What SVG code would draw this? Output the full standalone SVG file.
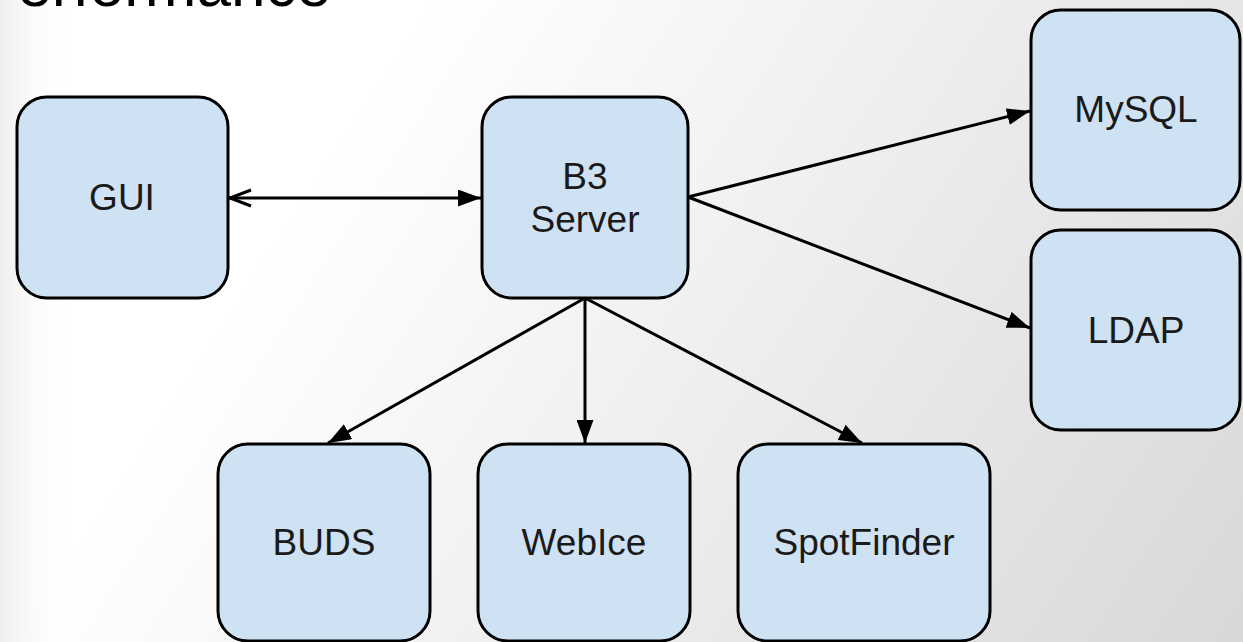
<svg xmlns="http://www.w3.org/2000/svg" width="1243" height="642" viewBox="0 0 1243 642">
  <style>
    .node rect { fill: #cfe2f3; stroke: #000; stroke-width: 3; }
    .node text { font-family: "Liberation Sans", Arial, sans-serif; font-size: 37px; fill: #1a1a1a; text-anchor: middle; }
    .conn line { stroke: #000; stroke-width: 3; fill: none; }
    .title { font-family: "Liberation Sans", Arial, sans-serif; font-size: 62px; fill: #000; }
  </style>
  <defs>
    <linearGradient id="bg" gradientUnits="userSpaceOnUse" x1="380" y1="80" x2="1243" y2="642">
      <stop offset="0" stop-color="#ffffff"/>
      <stop offset="1" stop-color="#d8d8d8"/>
    </linearGradient>
    <linearGradient id="edge" x1="0" y1="0" x2="1" y2="0">
      <stop offset="0" stop-color="#eeeeee" stop-opacity="1"/>
      <stop offset="1" stop-color="#ffffff" stop-opacity="0"/>
    </linearGradient>
    <marker id="tri" markerUnits="userSpaceOnUse" viewBox="0 0 23 17" markerWidth="23" markerHeight="17" refX="23" refY="8.5" orient="auto">
      <path d="M0,0 L23,8.5 L0,17 z" fill="#000"/>
    </marker>
    <marker id="open" markerUnits="userSpaceOnUse" viewBox="-2 -2 26 20" markerWidth="26" markerHeight="20" refX="0" refY="8" orient="auto" overflow="visible">
      <path d="M22,0 L1,8 L22,16" fill="none" stroke="#000" stroke-width="3"/>
    </marker>
  </defs>
  <rect x="0" y="0" width="1243" height="642" fill="url(#bg)"/>
  <rect x="0" y="0" width="70" height="642" fill="url(#edge)"/>
  <text class="title" x="-24" y="6">Performance</text>

  <g id="connectors" class="conn">
    <line x1="229" y1="198" x2="481" y2="198" marker-start="url(#open)" marker-end="url(#tri)"/>
    <line x1="688" y1="197" x2="1030" y2="111" marker-end="url(#tri)"/>
    <line x1="688" y1="197" x2="1030" y2="328" marker-end="url(#tri)"/>
    <line x1="585" y1="298" x2="328" y2="443" marker-end="url(#tri)"/>
    <line x1="585" y1="298" x2="585" y2="443" marker-end="url(#tri)"/>
    <line x1="585" y1="298" x2="862" y2="443" marker-end="url(#tri)"/>
  </g>

  <g id="gui" class="node">
    <rect x="17" y="97" width="211" height="201" rx="30"/>
    <text x="122" y="210">GUI</text>
  </g>
  <g id="b3server" class="node">
    <rect x="482" y="97" width="206" height="201" rx="30"/>
    <text x="585" y="189">B3</text>
    <text x="585" y="232">Server</text>
  </g>
  <g id="mysql" class="node">
    <rect x="1031" y="10" width="209" height="200" rx="30"/>
    <text x="1136" y="122">MySQL</text>
  </g>
  <g id="ldap" class="node">
    <rect x="1031" y="230" width="209" height="200" rx="30"/>
    <text x="1136" y="343">LDAP</text>
  </g>
  <g id="buds" class="node">
    <rect x="218" y="444" width="212" height="197" rx="30"/>
    <text x="324" y="555">BUDS</text>
  </g>
  <g id="webice" class="node">
    <rect x="478" y="444" width="212" height="197" rx="30"/>
    <text x="584" y="555">WebIce</text>
  </g>
  <g id="spotfinder" class="node">
    <rect x="738" y="444" width="252" height="197" rx="30"/>
    <text x="864" y="555">SpotFinder</text>
  </g>
</svg>
